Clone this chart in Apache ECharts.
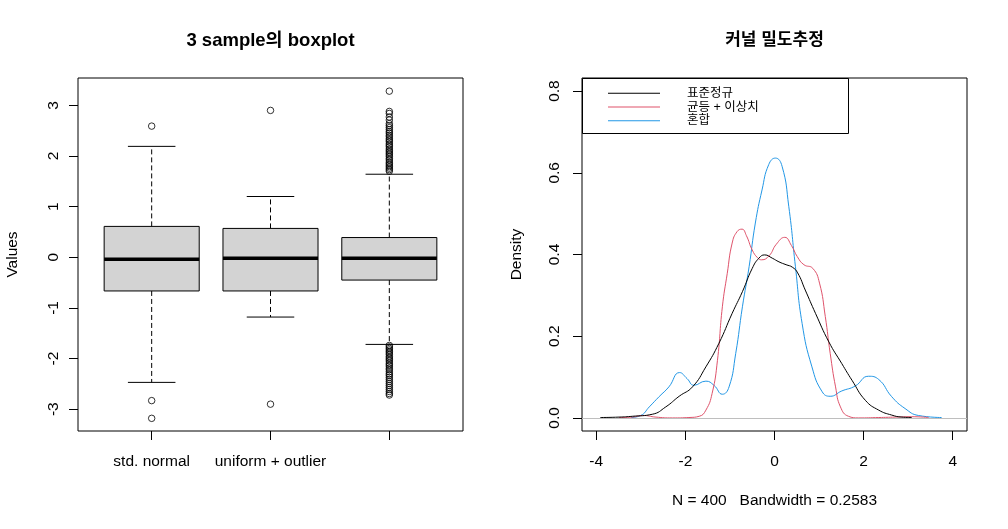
<!DOCTYPE html>
<html>
<head>
<meta charset="utf-8">
<script src="https://cdn.jsdelivr.net/npm/echarts@6/dist/echarts.min.js"></script>
<style>
  html, body { margin: 0; padding: 0; background: #fff; }
  #chart { width: 1008px; height: 529px; }
</style>
</head>
<body>
<div id="chart"></div>
<script>
// --- boxplot data ---
const boxCategories = ['std. normal', 'uniform + outlier', ''];
// [min whisker, Q1, median, Q3, max whisker]
const boxStats = [
    [-2.47, -0.665, -0.04, 0.61, 2.19],
    [-1.18, -0.665, -0.02, 0.57, 1.20],
    [-1.72, -0.45, -0.02, 0.39, 1.64]
];
const outliersNormal = [2.59, -2.83, -3.18];
const outliersUniform = [2.90, -2.90];
const outliersMixed = [
    3.28, 2.88, 2.84, 2.77, 2.71, 2.64, 2.60, 2.56, 2.52, 2.48, 2.45, 2.41, 2.38, 2.34,
    2.31, 2.28, 2.24, 2.21, 2.18, 2.14, 2.11, 2.08, 2.05, 2.02, 1.99, 1.95, 1.92, 1.88,
    1.85, 1.82, 1.79, 1.76, 1.73, 1.70,
    -1.74, -1.77, -1.80, -1.83, -1.86, -1.89, -1.92, -1.96, -1.99, -2.02, -2.05, -2.09,
    -2.12, -2.15, -2.19, -2.22, -2.26, -2.30, -2.33, -2.37, -2.41, -2.45, -2.49, -2.53,
    -2.57, -2.61, -2.65, -2.69, -2.72
];

// --- kernel density curves [x, density] ---
const densityNormal = [
    [-3.91, 0.001], [-3.49, 0.002], [-3.19, 0.004], [-2.74, 0.009], [-2.44, 0.027],
    [-2.14, 0.053], [-1.84, 0.076], [-1.54, 0.125], [-1.25, 0.182], [-0.95, 0.256],
    [-0.72, 0.309], [-0.50, 0.366], [-0.35, 0.391], [-0.22, 0.399], [-0.05, 0.391],
    [0.10, 0.382], [0.26, 0.375], [0.40, 0.369], [0.52, 0.355], [0.69, 0.313],
    [0.92, 0.256], [1.22, 0.186], [1.51, 0.133], [1.74, 0.092], [2.04, 0.043],
    [2.34, 0.019], [2.63, 0.007], [2.86, 0.002], [3.08, 0.001]
];
const densityUniform = [
    [-3.49, 0.001], [-3.19, 0.002], [-2.96, 0.006], [-2.66, 0.002], [-2.29, 0.000],
    [-1.92, 0.001], [-1.69, 0.004], [-1.54, 0.019], [-1.40, 0.060], [-1.28, 0.141],
    [-1.17, 0.272], [-1.06, 0.354], [-0.95, 0.428], [-0.84, 0.456], [-0.73, 0.462],
    [-0.63, 0.446], [-0.50, 0.411], [-0.38, 0.392], [-0.29, 0.387], [-0.12, 0.397],
    [0.04, 0.425], [0.23, 0.442], [0.38, 0.422], [0.51, 0.395], [0.66, 0.375],
    [0.86, 0.366], [1.01, 0.330], [1.14, 0.248], [1.25, 0.158], [1.37, 0.076],
    [1.48, 0.027], [1.66, 0.004], [1.89, 0.000], [2.34, 0.001], [2.71, 0.002],
    [3.08, 0.003], [3.46, 0.001]
];
const densityMixed = [
    [-3.22, 0.001], [-3.00, 0.006], [-2.81, 0.027], [-2.59, 0.052], [-2.37, 0.076],
    [-2.13, 0.111], [-1.96, 0.096], [-1.81, 0.080], [-1.54, 0.090], [-1.36, 0.080],
    [-1.17, 0.058], [-1.02, 0.076], [-0.87, 0.158], [-0.72, 0.272], [-0.57, 0.370],
    [-0.43, 0.477], [-0.28, 0.558], [-0.13, 0.620], [0.02, 0.636], [0.17, 0.616],
    [0.32, 0.518], [0.47, 0.370], [0.62, 0.231], [0.84, 0.125], [1.07, 0.064],
    [1.25, 0.053], [1.51, 0.066], [1.81, 0.078], [2.11, 0.102], [2.34, 0.094],
    [2.63, 0.052], [2.93, 0.023], [3.23, 0.006], [3.75, 0.001]
];

const seriesNames = ['표준정규', '균등 + 이상치', '혼합'];
const seriesColors = ['#000000', '#DF536B', '#2297E6'];
const boxTicks = [1, 2, 3];
const valueTicks = [-3, -2, -1, 0, 1, 2, 3];
const densityXTicks = [-4, -2, 0, 2, 4];
const densityYTicks = [0, 0.2, 0.4, 0.6, 0.8];

const FONT = "'Liberation Sans', Arial, 'Noto Sans CJK KR', sans-serif";
const txt = { color: '#000', fontFamily: FONT, fontSize: 15.5 };

const chart = echarts.init(document.getElementById('chart'), null, { renderer: 'canvas' });

function axisCommon(ticks) {
    return {
        axisLine: { show: false, onZero: false },
        splitLine: { show: false },
        axisTick: { show: true, customValues: ticks, length: 9, lineStyle: { color: '#000', width: 1 } },
        nameTextStyle: { ...txt }
    };
}

function renderBox(params, api) {
    const i = api.value(0);
    const pLo = api.coord([i, api.value(1)]);
    const pQ1 = api.coord([i, api.value(2)]);
    const pMed = api.coord([i, api.value(3)]);
    const pQ3 = api.coord([i, api.value(4)]);
    const pHi = api.coord([i, api.value(5)]);
    const cx = pMed[0];
    const halfBox = api.size([0.4, 0])[0];
    const halfCap = api.size([0.2, 0])[0];
    const solid = { stroke: '#000', lineWidth: 1 };
    const dashed = { stroke: '#000', lineWidth: 1, lineDash: [5, 3] };
    return {
        type: 'group',
        children: [
            { type: 'line', shape: { x1: cx, y1: pQ3[1], x2: cx, y2: pHi[1] }, style: dashed },
            { type: 'line', shape: { x1: cx, y1: pQ1[1], x2: cx, y2: pLo[1] }, style: dashed },
            { type: 'line', shape: { x1: cx - halfCap, y1: pHi[1], x2: cx + halfCap, y2: pHi[1] }, style: solid },
            { type: 'line', shape: { x1: cx - halfCap, y1: pLo[1], x2: cx + halfCap, y2: pLo[1] }, style: solid },
            {
                type: 'rect',
                shape: { x: cx - halfBox, y: pQ3[1], width: halfBox * 2, height: pQ1[1] - pQ3[1] },
                style: { fill: '#D3D3D3', stroke: '#000', lineWidth: 1 }
            },
            { type: 'line', shape: { x1: cx - halfBox, y1: pMed[1], x2: cx + halfBox, y2: pMed[1] }, style: { stroke: '#000', lineWidth: 3.5 } }
        ]
    };
}

const outlierData = []
    .concat(outliersNormal.map(v => [1, v]))
    .concat(outliersUniform.map(v => [2, v]))
    .concat(outliersMixed.map(v => [3, v]));

const option = {
    backgroundColor: '#fff',
    animation: false,
    title: [
        {
            text: '3 sample의 boxplot', left: 270.5, top: 32, padding: 0, textAlign: 'center',
            textStyle: { color: '#000', fontFamily: FONT, fontSize: 18.5, fontWeight: 'bold' }
        },
        {
            text: '커널 밀도추정', left: 774.5, top: 32, padding: 0, textAlign: 'center',
            textStyle: { color: '#000', fontFamily: FONT, fontSize: 17, fontWeight: 'bold' }
        }
    ],
    grid: [
        { left: 78, top: 78, width: 385, height: 353, show: true, borderColor: '#000', borderWidth: 1, backgroundColor: 'transparent' },
        { left: 582, top: 78, width: 385, height: 353, show: true, borderColor: '#000', borderWidth: 1, backgroundColor: 'transparent' }
    ],
    xAxis: [
        {
            type: 'value', gridIndex: 0, min: 0.38, max: 3.62,
            ...axisCommon(boxTicks),
            axisLabel: { customValues: boxTicks, ...txt, margin: 23, formatter: v => boxCategories[v - 1] }
        },
        {
            type: 'value', gridIndex: 1, min: -4.32, max: 4.32,
            ...axisCommon(densityXTicks),
            axisLabel: { customValues: densityXTicks, ...txt, margin: 23 },
            name: 'N = 400   Bandwidth = 0.2583', nameLocation: 'middle', nameGap: 62
        }
    ],
    yAxis: [
        {
            type: 'value', gridIndex: 0, min: -3.43, max: 3.54,
            ...axisCommon(valueTicks),
            axisLabel: { customValues: valueTicks, ...txt, rotate: 90, margin: 17 },
            name: 'Values', nameLocation: 'middle', nameGap: 58
        },
        {
            type: 'value', gridIndex: 1, min: -0.032, max: 0.832,
            ...axisCommon(densityYTicks),
            axisLabel: { customValues: densityYTicks, ...txt, rotate: 90, margin: 20, formatter: v => v.toFixed(1) },
            name: 'Density', nameLocation: 'middle', nameGap: 58
        }
    ],
    legend: {
        orient: 'vertical', left: 608, top: 86.5, padding: 0,
        icon: 'rect', itemWidth: 52, itemHeight: 1, itemGap: 0,
        data: seriesNames,
        textStyle: { color: '#000', fontFamily: FONT, fontSize: 12.5, lineHeight: 13.7, padding: [0, 0, 0, 22] },
        selectedMode: false
    },
    graphic: [
        {
            type: 'rect', z: 100, silent: true,
            shape: { x: 582.5, y: 78.5, width: 266, height: 55 },
            style: { fill: 'none', stroke: '#000', lineWidth: 1 }
        }
    ],
    series: [
        {
            type: 'custom', xAxisIndex: 0, yAxisIndex: 0,
            renderItem: renderBox,
            encode: { x: 0, y: [1, 2, 3, 4, 5] },
            data: boxStats.map((s, i) => [boxTicks[i]].concat(s)),
            silent: true
        },
        {
            type: 'scatter', xAxisIndex: 0, yAxisIndex: 0,
            symbol: 'circle', symbolSize: 6.5,
            itemStyle: { color: 'rgba(0,0,0,0)', borderColor: '#000', borderWidth: 1 },
            data: outlierData, silent: true
        },
        ...[densityNormal, densityUniform, densityMixed].map((d, k) => ({
            name: seriesNames[k], type: 'line', xAxisIndex: 1, yAxisIndex: 1,
            data: d, symbol: 'none', smooth: 0.5,
            color: seriesColors[k],
            lineStyle: { color: seriesColors[k], width: 1 },
            z: 3 - k,
            markLine: k === 0 ? {
                silent: true, symbol: 'none', label: { show: false },
                lineStyle: { color: '#BEBEBE', width: 1, type: 'solid' },
                data: [{ yAxis: 0 }]
            } : undefined
        }))
    ]
};

chart.setOption(option);
window.addEventListener('resize', () => chart.resize());
</script>
</body>
</html>
